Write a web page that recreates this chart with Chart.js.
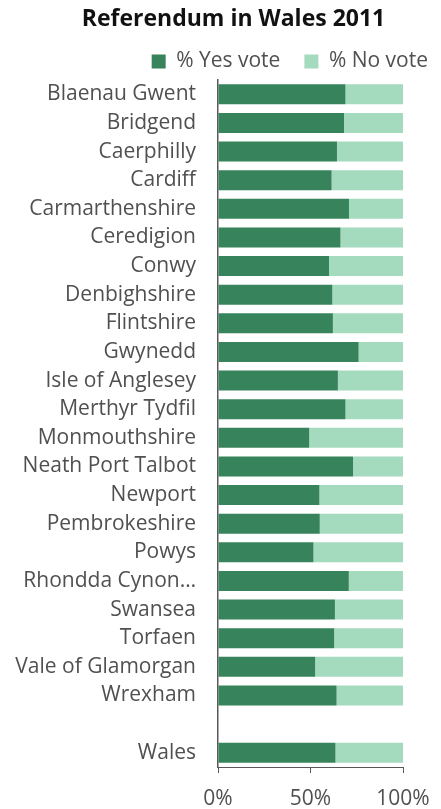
<!DOCTYPE html>
<html lang="en">
<head>
  <meta charset="UTF-8" />
  <title>Referendum in Wales 2011</title>
  <script src="https://cdn.jsdelivr.net/npm/chart.js"></script>
  <style>
    html, body { margin: 0; padding: 0; background: #fff; }
    #wrap { position: relative; width: 441px; height: 809px; }
    #title {
      position: absolute; top: 1px; left: 13px; width: 441px;
      text-align: center; font: bold 23px "Open Sans", sans-serif; color: #111;
    }
  </style>
</head>
<body>
  <div id="wrap">
    <canvas id="chart" width="441" height="809"></canvas>
    <div id="title">Referendum in Wales 2011</div>
  </div>

  <script>
    // council areas, with an empty slot before the national total
    const areas = [
      "Blaenau Gwent", "Bridgend", "Caerphilly", "Cardiff", "Carmarthenshire",
      "Ceredigion", "Conwy", "Denbighshire", "Flintshire", "Gwynedd",
      "Isle of Anglesey", "Merthyr Tydfil", "Monmouthshire", "Neath Port Talbot",
      "Newport", "Pembrokeshire", "Powys", "Rhondda Cynon…", "Swansea",
      "Torfaen", "Vale of Glamorgan", "Wrexham", "", "Wales"
    ];
    const yesVote = [
      68.9, 68.1, 64.3, 61.4, 70.8, 66.2, 60.0, 61.8, 62.1, 76.0,
      64.8, 68.9, 49.3, 73.0, 54.8, 55.0, 51.6, 70.7, 63.2, 62.8,
      52.5, 64.1, null, 63.5
    ];
    const noVote = [
      31.1, 31.9, 35.7, 38.6, 29.2, 33.8, 40.0, 38.2, 37.9, 24.0,
      35.2, 31.1, 50.7, 27.0, 45.2, 45.0, 48.4, 29.3, 36.8, 37.2,
      47.5, 35.9, null, 36.5
    ];
    const xTicks = [0, 50, 100];

    const textColor = "#505050";
    const axisColor = "#595959";

    new Chart(document.getElementById("chart"), {
      type: "bar",
      data: {
        labels: areas,
        datasets: [
          { label: "% Yes vote", data: yesVote, backgroundColor: "#37835b" },
          { label: "% No vote", data: noVote, backgroundColor: "#a4dabe" }
        ]
      },
      options: {
        indexAxis: "y",
        responsive: false,
        animation: false,
        categoryPercentage: 0.7,
        barPercentage: 1,
        // legend sits further right than the plot, hence the negative right padding
        layout: { padding: { top: 27, right: -11, left: 0, bottom: 0 } },
        plugins: {
          title: { display: false },
          tooltip: { enabled: false },
          legend: {
            position: "top",
            align: "end",
            maxHeight: 53,
            labels: {
              boxWidth: 14,
              boxHeight: 14,
              padding: 24,
              color: textColor,
              font: { family: "'Open Sans'", size: 21 }
            }
          }
        },
        scales: {
          x: {
            stacked: true,
            min: 0,
            max: 100,
            afterBuildTicks: s => { s.ticks = xTicks.map(v => ({ value: v })); },
            afterFit: s => { s.height = 42; s.paddingRight = 38; },
            ticks: {
              padding: 13,
              color: textColor,
              font: { family: "'Open Sans'", size: 21 },
              callback: v => v + "%"
            },
            grid: { drawOnChartArea: false, drawTicks: true, tickLength: 6, color: axisColor },
            border: { display: true, color: axisColor, width: 1 }
          },
          y: {
            stacked: true,
            afterFit: s => { s.width = 218; },
            ticks: {
              padding: 22,
              color: textColor,
              font: { family: "'Open Sans'", size: 21 },
              autoSkip: false
            },
            grid: { display: false, drawTicks: false },
            border: { display: true, color: axisColor, width: 1.5 }
          }
        }
      }
    });
  </script>
</body>
</html>
